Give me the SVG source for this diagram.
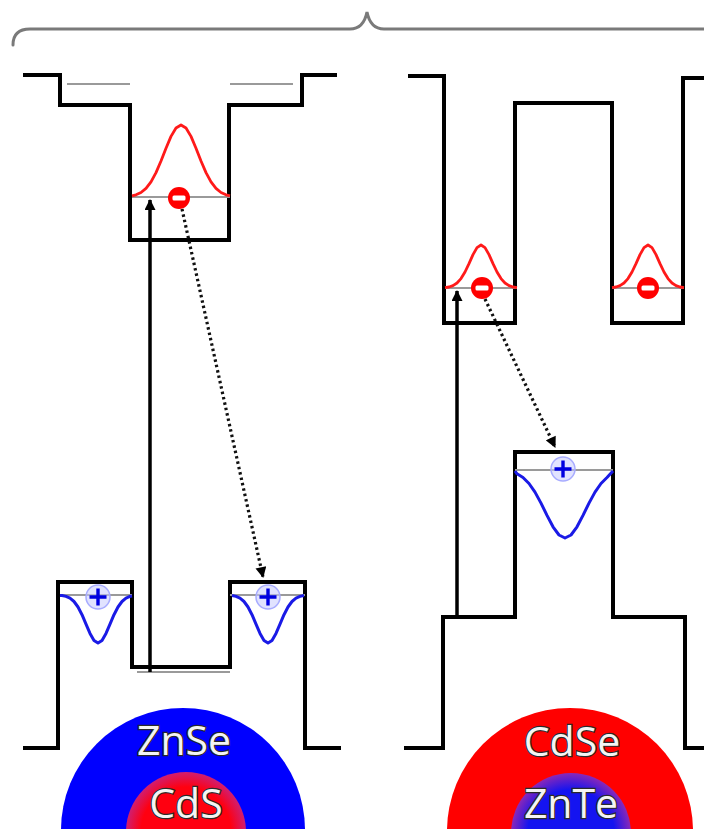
<svg xmlns="http://www.w3.org/2000/svg" width="704" height="829" viewBox="0 0 704 829">
  <defs>
    <style>
      .band { fill: none; stroke: #000; stroke-width: 4; stroke-linejoin: miter; stroke-linecap: square; }
      .level { fill: none; stroke: #9a9a9a; stroke-width: 2; }
      .elec-wf { fill: none; stroke: #ff1a1a; stroke-width: 2.8; stroke-linejoin: round; }
      .hole-wf { fill: none; stroke: #1a1ae6; stroke-width: 3; stroke-linejoin: round; }
      .brace { fill: none; stroke: #7a7a7a; stroke-width: 3; stroke-linecap: round; }
      .absorb { fill: none; stroke: #000; stroke-width: 3.5; }
      .recomb { fill: none; stroke: #111; stroke-width: 3.2; stroke-dasharray: 2.5 3; }
      .label { font-family: "Open Sans", "Liberation Sans", sans-serif; font-size: 41px; fill: #f4f4f4; stroke: #2a2a2a; stroke-width: 2.4; paint-order: stroke; text-anchor: middle; }
    </style>
    <marker id="head" viewBox="0 0 10 10" refX="9" refY="5" markerWidth="12" markerHeight="11" markerUnits="userSpaceOnUse" orient="auto">
      <path d="M0,0 L10,5 L0,10 Z" fill="#000"/>
    </marker>
    <g id="electron">
      <circle r="11" fill="#ff0000"/>
      <rect x="-6.5" y="-2.5" width="13" height="5" rx="1.5" fill="#fff"/>
    </g>
    <g id="hole">
      <circle r="12" fill="#c9ccff" fill-opacity="0.55" stroke="#a8acff" stroke-width="1.5"/>
      <path d="M-8.5,0 H8.5 M0,-8.5 V8.5" stroke="#0000e0" stroke-width="3.4"/>
    </g>
    <radialGradient id="coreCdS" cx="0.5" cy="0.5" r="0.5">
      <stop offset="0.75" stop-color="#ff0010"/>
      <stop offset="1" stop-color="#d01e70"/>
    </radialGradient>
    <radialGradient id="coreZnTe" cx="0.5" cy="0.5" r="0.5">
      <stop offset="0.72" stop-color="#1414f0"/>
      <stop offset="1" stop-color="#8a28b8"/>
    </radialGradient>
  </defs>

  <rect width="704" height="829" fill="#fff"/>

  <!-- curly brace spanning both panels -->
  <g id="brace">
    <path class="brace" d="M13,45 Q13,29 30,29 L350,29 C360,29 365,22 367,12 C369,22 374,29 384,29 L704,29"/>
  </g>

  <!-- type-I-like panel: CdS core / ZnSe shell -->
  <g id="band-left">
    <path class="band" d="M25,75 H60 V105 H130 V240 H229 V105 H302 V75 H335"/>
    <path class="band" d="M25,748 H58 V582 H132 V667 H230 V582 H305 V748 H339"/>
    <path class="level" d="M67,84 H130 M230,84 H293"/>
    <path class="level" d="M132,197 H230"/>
    <path class="level" d="M60,595 H132 M230,595 H305"/>
    <path class="level" d="M137,672 H230"/>
  </g>

  <!-- type-II panel: ZnTe core / CdSe shell -->
  <g id="band-right">
    <path class="band" d="M410,76 H444 V323 H515 V103 H612 V323 H683 V78 H706"/>
    <path class="band" d="M406,748 H443 V617 H515 V452 H613 V617 H685 V748 H706"/>
    <path class="level" d="M445,288 H517 M612,288 H684"/>
    <path class="level" d="M515,470 H613"/>
  </g>

  <!-- carrier wavefunctions -->
  <g id="wavefunctions">
    <polyline class="elec-wf" points="132,195.9 136,194.8 141,192.5 146,188.4 151,181.8 156,172.6 161,161 166,148.2 171,136.4 176,128 181,125 186,128 191,136.4 196,148.2 201,161 206,172.6 211,181.8 216,188.4 221,192.5 226,194.8 230,195.9"/>
    <polyline class="elec-wf" points="445,287.6 449,287 453,285.6 457,283 461,278.6 465,272 469,263.6 473,254.6 477,247.6 481,245 485,247.6 489,254.6 493,263.6 497,272 501,278.6 505,283 509,285.6 513,287 517,287.6"/>
    <polyline class="elec-wf" points="612,287.6 616,287 620,285.6 624,283 628,278.6 632,272 636,263.6 640,254.6 644,247.6 648,245 652,247.6 656,254.6 660,263.6 664,272 668,278.6 672,283 676,285.6 680,287 684,287.6"/>
    <polyline class="hole-wf" points="60,595.4 62,595.5 66,596.4 70,598.2 74,601.5 78,607 82,614.7 86,624.1 90,633.4 94,640.4 98,643 102,640.4 106,633.4 110,624.1 114,614.7 118,607 122,601.5 126,598.2 130,596.4 132,596"/>
    <polyline class="hole-wf" points="232,595.5 236,596.4 240,598.2 244,601.5 248,607 252,614.7 256,624.1 260,633.4 264,640.4 268,643 272,640.4 276,633.4 280,624.1 284,614.7 288,607 292,601.5 296,598.2 300,596.4 304,595.5"/>
    <polyline class="hole-wf" points="515,471 517,473.8 523,477.5 529,483.5 535,492.1 541,503.1 547,515.4 553,526.8 559,535 565,538 571,535 577,526.8 583,515.4 589,503.1 595,492.1 601,483.5 607,477.5 613,471"/>
  </g>

  <!-- excitation and recombination arrows -->
  <g id="connectors">
    <path class="absorb" d="M150,672 V200" marker-end="url(#head)"/>
    <path class="absorb" d="M457,617 V291" marker-end="url(#head)"/>
    <path class="recomb" d="M182,209 L263,577" marker-end="url(#head)"/>
    <path class="recomb" d="M485,299 L555,447" marker-end="url(#head)"/>
  </g>

  <!-- electrons and holes -->
  <g id="carriers">
    <use href="#electron" x="179" y="198"/>
    <use href="#electron" x="482" y="288"/>
    <use href="#electron" x="648" y="288"/>
    <use href="#hole" x="98" y="597"/>
    <use href="#hole" x="268" y="597"/>
    <use href="#hole" x="563" y="469"/>
  </g>

  <!-- core/shell nanocrystal sketches -->
  <g id="dot-left">
    <circle cx="183" cy="830" r="122" fill="#0000ff"/>
    <circle cx="186" cy="832" r="60" fill="url(#coreCdS)"/>
    <text class="label" x="184" y="755">ZnSe</text>
    <text class="label" x="186" y="818">CdS</text>
  </g>
  <g id="dot-right">
    <circle cx="570" cy="831" r="123" fill="#ff0000"/>
    <circle cx="571" cy="833" r="60" fill="url(#coreZnTe)"/>
    <text class="label" x="572" y="756">CdSe</text>
    <text class="label" x="571" y="818">ZnTe</text>
  </g>
</svg>
